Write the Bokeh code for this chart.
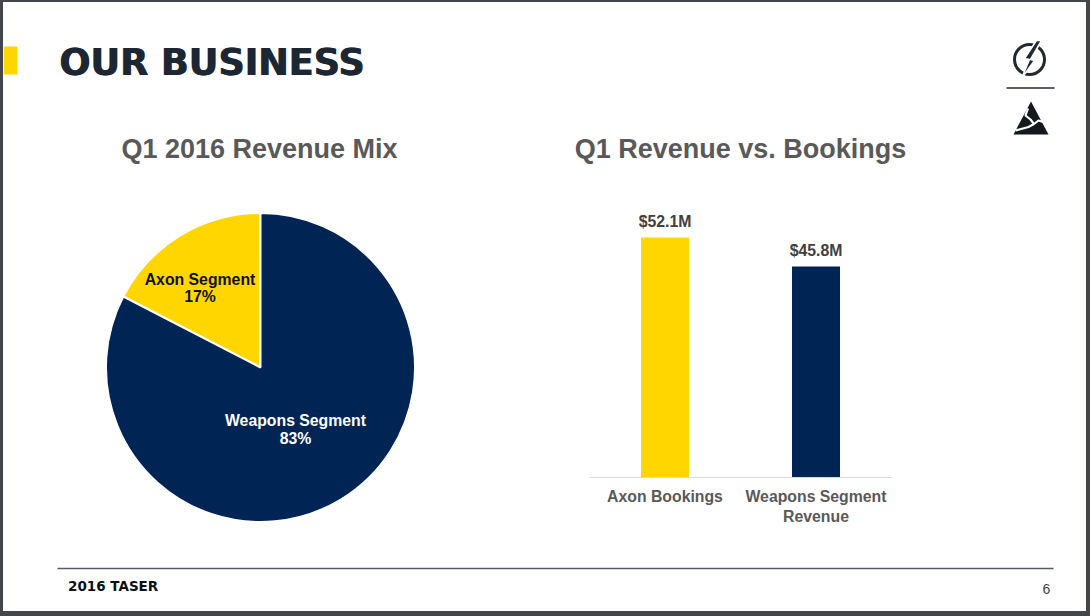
import math
from bokeh.plotting import figure
from bokeh.layouts import column, row
from bokeh.models import Range1d, FactorRange, Spacer
from bokeh.core.properties import value
from bokeh.embed import file_html
from bokeh.resources import INLINE

# ---- data
pie_names = ["Axon Segment", "Weapons Segment"]
pie_shares = [17.4, 82.6]
bar_categories = ["Axon Bookings", "Weapons Segment\nRevenue"]
bar_values = [52.1, 45.8]
slide_title = "OUR BUSINESS"
left_title = "Q1 2016 Revenue Mix"
right_title = "Q1 Revenue vs. Bookings"
footer_text = "2016 TASER"
page_number = "6"

# ---- styles
NAVY = "#002554"
YELLOW = "#FFD600"
EDGE = "#43474B"
FONT = value("Liberation Sans")
BLACK_FONT = value("DejaVu Sans")


def bare(width, height, xr, yr, **kw):
    p = figure(width=width, height=height, x_range=xr, y_range=yr,
               output_backend="svg", toolbar_location=None, min_border=0, frame_align=False, **kw)
    p.outline_line_color = None
    p.grid.visible = False
    p.axis.visible = False
    return p


# ---- header (page pixels)
head = bare(1083, 183, Range1d(3, 1086), Range1d(185, 2))
head.quad(left=[3], right=[17], top=[46], bottom=[74], fill_color=YELLOW, line_color=None)
for dx in (0, 1):
    head.text(x=[58.5], y=[61.5], text=[slide_title], x_offset=dx, text_font=BLACK_FONT, text_font_style="bold",
              text_font_size="36.5px", text_color="#1C2733", text_align="left", text_baseline="middle")
head.text(x=[259], y=[148], text=[left_title], text_font=FONT, text_font_style="bold",
          text_font_size="27px", text_color="#595959", text_align="center", text_baseline="middle")
head.text(x=[740], y=[148], text=[right_title], text_font=FONT, text_font_style="bold",
          text_font_size="27px", text_color="#595959", text_align="center", text_baseline="middle")
# bolt icon
head.circle(x=[1029], y=[59], radius=15, fill_color=None, line_color="#222A30", line_width=3)
head.patch(x=[1036, 1024, 1029, 1021, 1034, 1030, 1041],
           y=[40, 58, 59, 78, 60, 59, 40],
           fill_color="#222A30", line_color="white", line_width=1.5)
head.line(x=[1006, 1054], y=[87.5, 87.5], line_color="#222A30", line_width=1.5)
# triangle icon
head.patch(x=[1030.5, 1048, 1013], y=[101, 134, 134], fill_color="#15191D", line_color=None)
head.line(x=[1027.5, 1025, 1030, 1033.5, 1028, 1015], y=[108, 115, 119, 123.5, 126.5, 130],
          line_color="white", line_width=2.2)
head.line(x=[1033.5, 1038, 1047], y=[123.5, 120, 123], line_color="white", line_width=2.2)

# ---- pie
CX, CY, PX = 260.0, 367.0, 154.5
pie = bare(557, 345,
           Range1d((3 - CX) / PX, (560 - CX) / PX),
           Range1d((CY - 530) / PX, (CY - 185) / PX))
start = math.pi / 2
total = sum(pie_shares)
for name, share, colour, tx, ty, tc in zip(
        pie_names, pie_shares, [YELLOW, NAVY],
        [(199.5 - CX) / PX, (295 - CX) / PX],
        [(CY - 287.5) / PX, (CY - 429) / PX],
        ["#111111", "white"]):
    end = start + 2 * math.pi * share / total
    pie.wedge(x=[0], y=[0], radius=1.0, start_angle=start, end_angle=end,
              fill_color=colour, line_color="white", line_width=2)
    pie.text(x=[tx], y=[ty], text=[f"{name}\n{share:.0f}%"], text_font=FONT, text_font_style="bold",
             text_font_size="15.8px", text_color=tc, text_align="center",
             text_baseline="middle", text_line_height=1.05)
    start = end

# ---- bars
PER_UNIT = 240 / bar_values[0]
bars = figure(width=526, height=345, x_range=FactorRange(*bar_categories, range_padding=0, factor_padding=0),
              y_range=Range1d(0, 287 / PER_UNIT), frame_align=False,
              output_backend="svg", toolbar_location=None,
              min_border_left=29, min_border_right=195, min_border_top=5, min_border_bottom=53)
bars.outline_line_color = None
bars.grid.visible = False
bars.yaxis.visible = False
bars.xaxis.axis_line_color = "#D9D9D9"
bars.xaxis.axis_line_width = 1
bars.xaxis.major_tick_line_color = None
bars.xaxis.minor_tick_line_color = None
bars.xaxis.major_label_text_font = "Liberation Sans"
bars.xaxis.major_label_text_font_style = "bold"
bars.xaxis.major_label_text_font_size = "15.8px"
bars.xaxis.major_label_text_color = "#595959"
bars.xaxis.major_label_standoff = 4
bars.vbar(x=bar_categories, top=bar_values, width=0.318, bottom=0,
          fill_color=[YELLOW, NAVY], line_color=None)
bars.text(x=bar_categories, y=bar_values, text=[f"${v}M" for v in bar_values],
          text_font=FONT, text_font_style="bold", text_font_size="15.8px", text_color="#404040",
          text_align="center", text_baseline="bottom", y_offset=-8)

# ---- footer (page pixels)
foot = bare(1083, 81, Range1d(3, 1086), Range1d(611, 530))
foot.line(x=[57, 1053], y=[568, 568], line_color="#555B60", line_width=1.5)
foot.text(x=[67.5], y=[585.5], text=[footer_text], text_font=BLACK_FONT, text_font_style="bold",
          text_font_size="13.5px", text_color="#0B0F14", text_align="left", text_baseline="middle")
foot.text(x=[1046], y=[588], text=[page_number], text_font=FONT,
          text_font_size="14px", text_color="#444444", text_align="center", text_baseline="middle")

# ---- slide frame
edge = {"background-color": EDGE}
inner = column(Spacer(width=1083, height=2, styles=edge), head, row(pie, bars), foot,
               Spacer(width=1083, height=5, styles=edge), spacing=0)
page = row(Spacer(width=3, height=616, styles=edge), inner, Spacer(width=4, height=616, styles=edge),
           spacing=0)

open("out.html", "w").write(file_html(page, INLINE))
